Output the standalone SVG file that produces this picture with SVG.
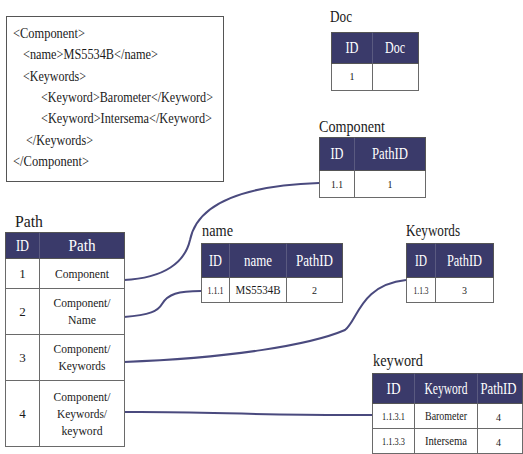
<svg xmlns="http://www.w3.org/2000/svg" width="523" height="454" viewBox="0 0 523 454" font-family="'Liberation Serif','Times New Roman',serif">
<style>
.bg{fill:#ffffff}
.box{fill:#ffffff;stroke:#555555;stroke-width:1}
.hdr{fill:#3a3a6a;stroke:#555555;stroke-width:1}
.cell{fill:#ffffff;stroke:#6a6a6a;stroke-width:1}
.div{stroke:#6a6a6a;stroke-width:1}
.hdiv{stroke:#5a5a80;stroke-width:1}
text{font-family:'Liberation Serif','Times New Roman',serif;fill:#1a1a1a}
.xml{font-size:14px}
.title{font-size:17px}
.th{font-size:16px;fill:#ffffff;text-anchor:middle}
.td{font-size:13px;text-anchor:middle}
.tds{font-size:10px;text-anchor:middle}
.conn{fill:none;stroke:#4a4a7e;stroke-width:2}
</style>
<rect class="bg" x="0" y="0" width="523" height="454"/>

<g id="xml-source">
<rect class="box" x="6.5" y="16.5" width="217" height="165"/>
<text class="xml" x="13" y="38" textLength="72" lengthAdjust="spacingAndGlyphs">&lt;Component&gt;</text>
<text class="xml" x="23" y="59" textLength="135" lengthAdjust="spacingAndGlyphs">&lt;name&gt;MS5534B&lt;/name&gt;</text>
<text class="xml" x="23" y="81" textLength="63" lengthAdjust="spacingAndGlyphs">&lt;Keywords&gt;</text>
<text class="xml" x="41" y="102" textLength="172" lengthAdjust="spacingAndGlyphs">&lt;Keyword&gt;Barometer&lt;/Keyword&gt;</text>
<text class="xml" x="41" y="123" textLength="171" lengthAdjust="spacingAndGlyphs">&lt;Keyword&gt;Intersema&lt;/Keyword&gt;</text>
<text class="xml" x="26" y="145" textLength="67" lengthAdjust="spacingAndGlyphs">&lt;/Keywords&gt;</text>
<text class="xml" x="13" y="166" textLength="76" lengthAdjust="spacingAndGlyphs">&lt;/Component&gt;</text>
</g>

<g id="connectors">
<path class="conn" d="M124,280 C165,278 185,262 190,240 C196,210 230,186 319,183"/>
<path class="conn" d="M124,317 C150,315 158,311 162,304 C168,294 178,291 201,291"/>
<path class="conn" d="M124,362 C230,358 310,345 345,330 C358,320 360,285 406,280"/>
<path class="conn" d="M124,412 C200,411 260,416 372,415"/>
</g>

<g id="table-doc">
<text class="title" x="330" y="22" textLength="22" lengthAdjust="spacingAndGlyphs">Doc</text>
<rect class="cell" x="331.5" y="63.5" width="87" height="27"/>
<rect class="hdr" x="331.5" y="32.5" width="87" height="31"/>
<line class="hdiv" x1="372.5" y1="32.5" x2="372.5" y2="63.5"/>
<line class="div" x1="372.5" y1="63.5" x2="372.5" y2="90.5"/>
<text class="th" x="352" y="53" textLength="13" lengthAdjust="spacingAndGlyphs">ID</text>
<text class="th" x="395" y="53" textLength="20" lengthAdjust="spacingAndGlyphs">Doc</text>
<text class="tds" x="352" y="80">1</text>
</g>

<g id="table-component">
<text class="title" x="319" y="132" textLength="66" lengthAdjust="spacingAndGlyphs">Component</text>
<rect class="cell" x="319.5" y="170.5" width="106" height="27"/>
<rect class="hdr" x="319.5" y="137.5" width="106" height="33"/>
<line class="hdiv" x1="354.5" y1="137.5" x2="354.5" y2="170.5"/>
<line class="div" x1="354.5" y1="170.5" x2="354.5" y2="197.5"/>
<text class="th" x="337" y="159" textLength="13" lengthAdjust="spacingAndGlyphs">ID</text>
<text class="th" x="390" y="159" textLength="36" lengthAdjust="spacingAndGlyphs">PathID</text>
<text class="tds" x="337" y="188" textLength="12" lengthAdjust="spacingAndGlyphs">1.1</text>
<text class="tds" x="390" y="188">1</text>
</g>

<g id="table-name">
<text class="title" x="202" y="236" textLength="31" lengthAdjust="spacingAndGlyphs">name</text>
<rect class="cell" x="201.5" y="277.5" width="141" height="25"/>
<rect class="hdr" x="201.5" y="243.5" width="141" height="34"/>
<line class="hdiv" x1="229.5" y1="243.5" x2="229.5" y2="277.5"/>
<line class="hdiv" x1="286.5" y1="243.5" x2="286.5" y2="277.5"/>
<line class="div" x1="229.5" y1="277.5" x2="229.5" y2="302.5"/>
<line class="div" x1="286.5" y1="277.5" x2="286.5" y2="302.5"/>
<text class="th" x="215.5" y="266" textLength="13" lengthAdjust="spacingAndGlyphs">ID</text>
<text class="th" x="258" y="266" textLength="28" lengthAdjust="spacingAndGlyphs">name</text>
<text class="th" x="314.5" y="266" textLength="37" lengthAdjust="spacingAndGlyphs">PathID</text>
<text class="tds" x="215.5" y="294" textLength="16" lengthAdjust="spacingAndGlyphs">1.1.1</text>
<text class="td" x="258" y="294" textLength="45" lengthAdjust="spacingAndGlyphs">MS5534B</text>
<text class="tds" x="314.5" y="294">2</text>
</g>

<g id="table-keywords">
<text class="title" x="406" y="236" textLength="54" lengthAdjust="spacingAndGlyphs">Keywords</text>
<rect class="cell" x="406.5" y="277.5" width="87" height="25"/>
<rect class="hdr" x="406.5" y="243.5" width="87" height="34"/>
<line class="hdiv" x1="435.5" y1="243.5" x2="435.5" y2="277.5"/>
<line class="div" x1="435.5" y1="277.5" x2="435.5" y2="302.5"/>
<text class="th" x="421" y="266" textLength="12" lengthAdjust="spacingAndGlyphs">ID</text>
<text class="th" x="464.5" y="266" textLength="35" lengthAdjust="spacingAndGlyphs">PathID</text>
<text class="tds" x="421" y="294" textLength="15" lengthAdjust="spacingAndGlyphs">1.1.3</text>
<text class="tds" x="464.5" y="294">3</text>
</g>

<g id="table-keyword">
<text class="title" x="373" y="366" textLength="50" lengthAdjust="spacingAndGlyphs">keyword</text>
<rect class="cell" x="372.5" y="403.5" width="150" height="25"/>
<rect class="cell" x="372.5" y="428.5" width="150" height="25"/>
<rect class="hdr" x="372.5" y="373.5" width="150" height="30"/>
<line class="hdiv" x1="414.5" y1="373.5" x2="414.5" y2="403.5"/>
<line class="hdiv" x1="477.5" y1="373.5" x2="477.5" y2="403.5"/>
<line class="div" x1="414.5" y1="403.5" x2="414.5" y2="454"/>
<line class="div" x1="477.5" y1="403.5" x2="477.5" y2="454"/>
<text class="th" x="393.5" y="394" textLength="14" lengthAdjust="spacingAndGlyphs">ID</text>
<text class="th" x="446" y="394" textLength="43" lengthAdjust="spacingAndGlyphs">Keyword</text>
<text class="th" x="498.5" y="394" font-size="15" textLength="36" lengthAdjust="spacingAndGlyphs">PathID</text>
<text class="tds" x="393.5" y="420" textLength="23" lengthAdjust="spacingAndGlyphs">1.1.3.1</text>
<text class="td" x="446" y="420" font-size="12" textLength="42" lengthAdjust="spacingAndGlyphs">Barometer</text>
<text class="tds" x="498.5" y="421" font-size="11">4</text>
<text class="tds" x="393.5" y="445" textLength="23" lengthAdjust="spacingAndGlyphs">1.1.3.3</text>
<text class="td" x="446" y="445" font-size="12" textLength="42" lengthAdjust="spacingAndGlyphs">Intersema</text>
<text class="tds" x="498.5" y="446" font-size="11">4</text>
</g>

<g id="table-path">
<text class="title" x="15" y="227" textLength="28" lengthAdjust="spacingAndGlyphs">Path</text>
<rect class="cell" x="5.5" y="258.5" width="119" height="188"/>
<line class="div" x1="5.5" y1="288.5" x2="124.5" y2="288.5"/>
<line class="div" x1="5.5" y1="334.5" x2="124.5" y2="334.5"/>
<line class="div" x1="5.5" y1="380.5" x2="124.5" y2="380.5"/>
<line class="div" x1="39.5" y1="258.5" x2="39.5" y2="446.5"/>
<rect class="hdr" x="5.5" y="232.5" width="119" height="26"/>
<line class="hdiv" x1="39.5" y1="232.5" x2="39.5" y2="258.5"/>
<text class="th" x="22.5" y="251" textLength="13" lengthAdjust="spacingAndGlyphs">ID</text>
<text class="th" x="82" y="251" textLength="27" lengthAdjust="spacingAndGlyphs">Path</text>
<text class="td" x="22.5" y="278">1</text>
<text class="td" x="82" y="278" textLength="54" lengthAdjust="spacingAndGlyphs">Component</text>
<text class="td" x="22.5" y="316">2</text>
<text class="td" x="82" y="307" textLength="57" lengthAdjust="spacingAndGlyphs">Component/</text>
<text class="td" x="82" y="324" textLength="28" lengthAdjust="spacingAndGlyphs">Name</text>
<text class="td" x="22.5" y="362">3</text>
<text class="td" x="82" y="353" textLength="57" lengthAdjust="spacingAndGlyphs">Component/</text>
<text class="td" x="82" y="370" textLength="47" lengthAdjust="spacingAndGlyphs">Keywords</text>
<text class="td" x="22.5" y="418">4</text>
<text class="td" x="82" y="400.5" textLength="57" lengthAdjust="spacingAndGlyphs">Component/</text>
<text class="td" x="82" y="417.5" textLength="50" lengthAdjust="spacingAndGlyphs">Keywords/</text>
<text class="td" x="82" y="434.5" textLength="41" lengthAdjust="spacingAndGlyphs">keyword</text>
</g>
</svg>
